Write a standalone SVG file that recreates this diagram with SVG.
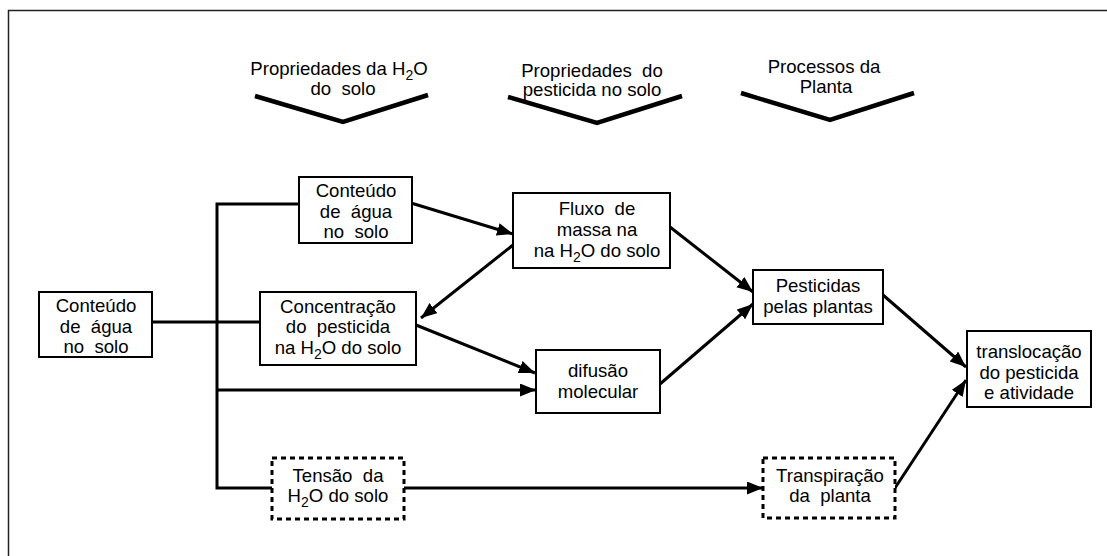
<svg xmlns="http://www.w3.org/2000/svg" width="1107" height="556" viewBox="0 0 1107 556">
  <style>
    text { font-family: "Liberation Sans", Arial, sans-serif; font-size: 18.6px; fill: #000; text-anchor: middle; white-space: pre; }
    .sub { font-size: 14px; }
    .box { fill: #fff; stroke: #000; stroke-width: 2; }
    .dash { fill: #fff; stroke: #000; stroke-width: 3; stroke-dasharray: 5 4; }
    .chev { fill: none; stroke: #000; stroke-width: 4.5; stroke-linejoin: miter; }
    .line { fill: none; stroke: #000; stroke-width: 3; }
    .arrow { fill: none; stroke: #000; stroke-width: 3; marker-end: url(#head); }
  </style>
  <defs>
    <marker id="head" markerUnits="userSpaceOnUse" markerWidth="17" markerHeight="14" refX="16" refY="6.5" orient="auto">
      <path d="M0,0 L16,6.5 L0,13 Z" fill="#000"/>
    </marker>
  </defs>

  <rect width="1107" height="556" fill="#fff"/>
  <!-- outer frame -->
  <rect x="8.5" y="10.5" width="1110" height="560" fill="none" stroke="#222" stroke-width="1.5"/>

  <!-- column headings -->
  <g id="head-agua">
    <text x="339" y="75">Propriedades da H<tspan class="sub" dy="5">2</tspan><tspan dy="-5">O</tspan></text>
    <text x="343" y="95">do  solo</text>
    <polyline class="chev" points="255,96 343,122 428,95"/>
  </g>
  <g id="head-pesticida">
    <text x="592" y="77">Propriedades  do</text>
    <text x="592" y="96">pesticida no solo</text>
    <polyline class="chev" points="508,97 597,123 682,96"/>
  </g>
  <g id="head-planta">
    <text x="824" y="73">Processos da</text>
    <text x="826" y="93">Planta</text>
    <polyline class="chev" points="741,93 830,120 914,93"/>
  </g>

  <!-- connectors -->
  <g id="connectors">
    <line class="line" x1="152" y1="322" x2="260" y2="322"/>
    <polyline class="line" points="299,204 217,204 217,488 272,488"/>
    <line class="arrow" x1="217" y1="390" x2="536" y2="390"/>
    <line class="arrow" x1="404" y1="488" x2="763" y2="488"/>
    <line class="arrow" x1="411" y1="203" x2="513" y2="234"/>
    <line class="arrow" x1="513" y1="245" x2="421" y2="318"/>
    <line class="arrow" x1="416" y1="325" x2="535" y2="373"/>
    <line class="arrow" x1="670" y1="227" x2="753" y2="292"/>
    <line class="arrow" x1="660" y1="384" x2="753" y2="304"/>
    <line class="arrow" x1="883" y1="295" x2="966" y2="367"/>
    <line class="arrow" x1="895" y1="488" x2="966" y2="380"/>
  </g>

  <!-- nodes -->
  <g id="n-agua-left">
    <rect class="box" x="39" y="292" width="113" height="65"/>
    <text x="96" y="312">Conteúdo</text>
    <text x="96" y="333">de  água</text>
    <text x="96" y="353">no  solo</text>
  </g>
  <g id="n-agua-top">
    <rect class="box" x="299" y="177" width="113" height="66"/>
    <text x="356" y="197">Conteúdo</text>
    <text x="356" y="218">de  água</text>
    <text x="356" y="238">no  solo</text>
  </g>
  <g id="n-concentracao">
    <rect class="box" x="260" y="292" width="156" height="73"/>
    <text x="338" y="313">Concentração</text>
    <text x="338" y="333">do  pesticida</text>
    <text x="338" y="354">na H<tspan class="sub" dy="5">2</tspan><tspan dy="-5">O do solo</tspan></text>
  </g>
  <g id="n-fluxo">
    <rect class="box" x="513" y="193" width="157" height="75"/>
    <text x="597" y="215">Fluxo  de</text>
    <text x="597" y="236">massa na</text>
    <text x="597" y="257">na H<tspan class="sub" dy="5">2</tspan><tspan dy="-5">O do solo</tspan></text>
  </g>
  <g id="n-difusao">
    <rect class="box" x="536" y="350" width="124" height="63"/>
    <text x="598" y="377">difusão</text>
    <text x="598" y="398">molecular</text>
  </g>
  <g id="n-pesticidas">
    <rect class="box" x="753" y="270" width="130" height="54"/>
    <text x="818" y="292">Pesticidas</text>
    <text x="818" y="313">pelas plantas</text>
  </g>
  <g id="n-translocacao">
    <rect class="box" x="967" y="331" width="124" height="76"/>
    <text x="1029" y="358">translocação</text>
    <text x="1029" y="379">do pesticida</text>
    <text x="1029" y="399">e atividade</text>
  </g>
  <g id="n-tensao">
    <rect class="dash" x="272" y="458" width="132" height="61"/>
    <text x="338" y="482">Tensão  da</text>
    <text x="338" y="502">H<tspan class="sub" dy="5">2</tspan><tspan dy="-5">O do solo</tspan></text>
  </g>
  <g id="n-transpiracao">
    <rect class="dash" x="763" y="458" width="132" height="60"/>
    <text x="830" y="482">Transpiração</text>
    <text x="830" y="502">da  planta</text>
  </g>
</svg>
